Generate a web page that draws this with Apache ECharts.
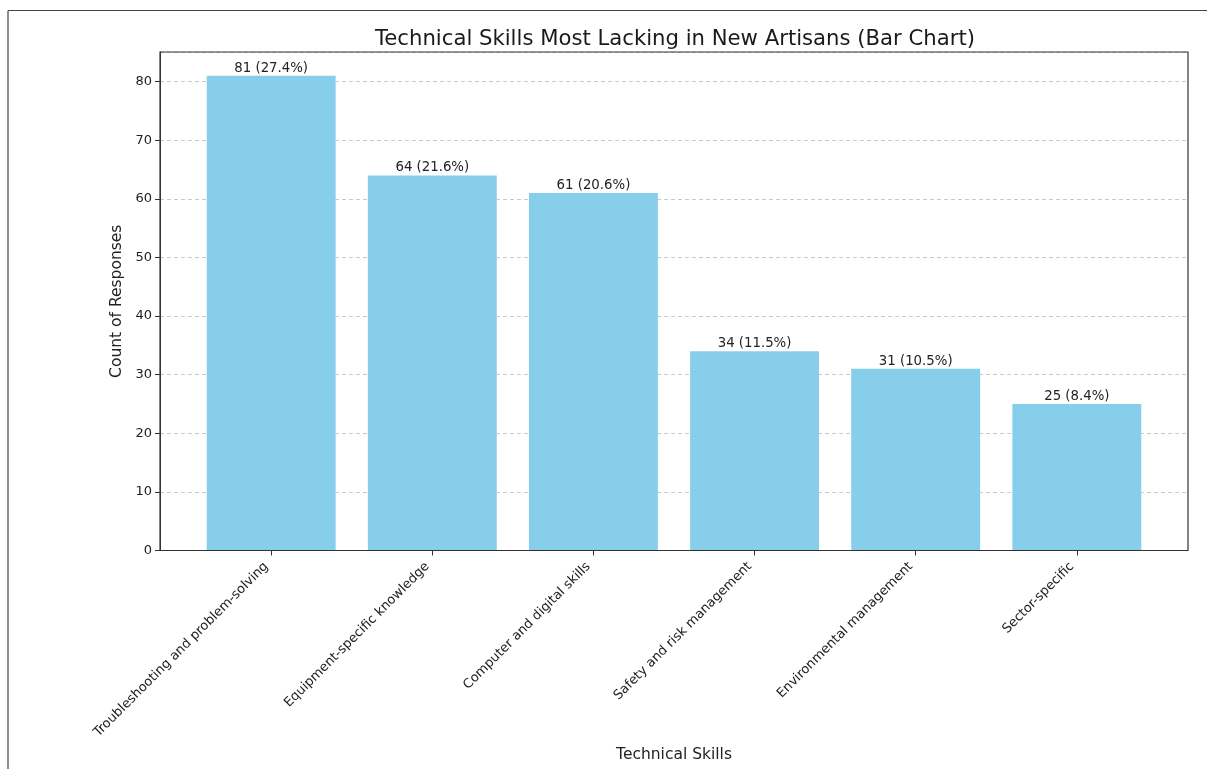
<!DOCTYPE html>
<html><head><meta charset="utf-8">
<script src="https://cdn.jsdelivr.net/npm/echarts@6/dist/echarts.min.js"></script>
<style>html,body{margin:0;padding:0;background:#fff}#c{width:1207px;height:769px}</style>
</head><body><div id="c"></div>
<script>
const categories = ["Troubleshooting and problem-solving","Equipment-specific knowledge","Computer and digital skills","Safety and risk management","Environmental management","Sector-specific"];
const counts = [81, 64, 61, 34, 31, 25];
const percents = ["27.4%", "21.6%", "20.6%", "11.5%", "10.5%", "8.4%"];
const yTicks = [0, 10, 20, 30, 40, 50, 60, 70, 80];

const FONT = "DejaVu Sans";
const chart = echarts.init(document.getElementById('c'), null, {renderer: 'canvas'});
const L = 160, R = 1188, T = 52, B = 550.5;
const unit = (R - L) / 6.38;
const inset = 0.19 * unit;
const yMax = 85.05;
chart.setOption({
  animation: false,
  textStyle: {fontFamily: FONT},
  title: {text: "Technical Skills Most Lacking in New Artisans (Bar Chart)", left: (L + R) / 2 - 4, top: 24, textAlign: 'center',
    textStyle: {fontFamily: FONT, fontSize: 21.2, fontWeight: 'normal', color: '#1a1a1a'}},
  graphic: [
    {type: 'line', shape: {x1: 8, y1: 10.5, x2: 1207, y2: 10.5}, style: {stroke: '#444', lineWidth: 1.2}},
    {type: 'line', shape: {x1: 8, y1: 10.5, x2: 8, y2: 769}, style: {stroke: '#444', lineWidth: 1.2}},
    {type: 'rect', z: 100, shape: {x: L, y: T, width: R - L, height: B - T}, style: {fill: null, stroke: '#333', lineWidth: 1.2}}
  ],
  grid: [
    {left: L, top: T, width: R - L, height: B - T},
    {left: L + inset, top: T, width: R - L - 2 * inset, height: B - T}
  ],
  xAxis: [
    {gridIndex: 0, type: 'value', min: 0, max: 1, show: false},
    {gridIndex: 1, type: 'category', data: categories,
      axisLine: {show: false}, axisTick: {show: true, alignWithLabel: true, length: 5, lineStyle: {color: '#333'}},
      axisLabel: {rotate: 45, fontSize: 13, color: '#222', margin: 9, padding: [0, 7, 0, 0], fontFamily: FONT, interval: 0},
      name: "Technical Skills", nameLocation: 'middle', nameGap: 196,
      nameTextStyle: {fontSize: 15.5, color: '#222', fontFamily: FONT}},
  ],
  yAxis: [
    {gridIndex: 0, type: 'value', min: 0, max: yMax, interval: 10,
      axisLine: {show: true, lineStyle: {color: '#333'}},
      axisTick: {show: true, length: 5, lineStyle: {color: '#333'}},
      axisLabel: {fontSize: 13, color: '#222', margin: 8, fontFamily: FONT, showMaxLabel: false,
        formatter: v => yTicks.includes(v) ? String(v) : ''},
      splitLine: {show: true, lineStyle: {type: [4, 3], color: '#c8c8c8', width: 1}},
      name: "Count of Responses", nameLocation: 'middle', nameGap: 33,
      nameTextStyle: {fontSize: 15.5, color: '#222', fontFamily: FONT}},
    {gridIndex: 1, type: 'value', min: 0, max: yMax, show: false, splitLine: {show: false}}
  ],
  series: [{
    type: 'bar', xAxisIndex: 1, yAxisIndex: 1, data: counts, barCategoryGap: '20%',
    itemStyle: {color: '#87CEEB'},
    label: {show: true, position: 'top', distance: 1, fontSize: 13.3, color: '#222', fontFamily: FONT,
      formatter: p => counts[p.dataIndex] + " (" + percents[p.dataIndex] + ")"}
  }]
});
</script></body></html>
